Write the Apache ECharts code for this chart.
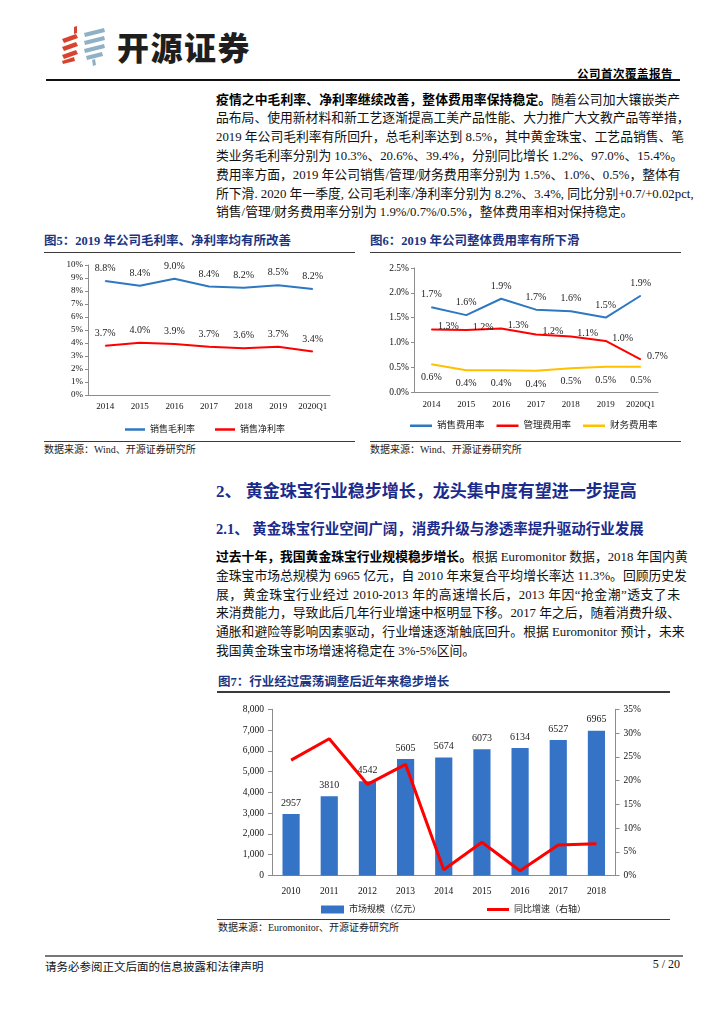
<!DOCTYPE html>
<html>
<head>
<meta charset="utf-8">
<script src="https://cdn.jsdelivr.net/npm/echarts/dist/echarts.min.js"></script>
<style>
  html, body { margin:0; padding:0; background:#fff; }
  body { width:724px; height:1024px; position:relative; overflow:hidden;
         font-family:"Liberation Serif","Noto Sans CJK SC",serif; color:#111; }
  .abs { position:absolute; }
  .para { position:absolute; left:216px; width:464px; font-size:12.8px; line-height:18.8px; color:#111; }
  .para div { white-space:nowrap; text-align:justify; text-align-last:justify; height:18.8px; }
  .para div.last { text-align-last:left; }
  .para b { font-weight:bold; color:#000; }
  .figt { position:absolute; font-size:12.5px; font-weight:bold; color:#1c3582; line-height:16px; white-space:nowrap; }
  .rule { position:absolute; height:1.5px; background:#3a3a3a; }
  .src { position:absolute; font-size:10px; line-height:12px; color:#222; white-space:nowrap; }
  .chart { position:absolute; }
</style>
</head>
<body>
<script>
// ---------------- DATA ----------------
const years5 = ['2014', '2015', '2016', '2017', '2018', '2019', '2020Q1'];
const grossMargin = [8.77, 8.40, 8.95, 8.35, 8.25, 8.45, 8.15];
const grossMarginLabels = ['8.8%', '8.4%', '9.0%', '8.4%', '8.2%', '8.5%', '8.2%'];
const netMargin = [3.78, 4.02, 3.92, 3.72, 3.60, 3.72, 3.35];
const netMarginLabels = ['3.7%', '4.0%', '3.9%', '3.7%', '3.6%', '3.7%', '3.4%'];
const fig5Ticks = [0, 10, 1];

const salesExp = [1.71, 1.55, 1.88, 1.66, 1.63, 1.50, 1.94];
const salesExpLabels = ['1.7%', '1.6%', '1.9%', '1.7%', '1.6%', '1.5%', '1.9%'];
const mgmtExp = [1.26, 1.25, 1.28, 1.16, 1.12, 1.03, 0.66];
const mgmtExpLabels = ['1.3%', '1.2%', '1.3%', '1.2%', '1.1%', '1.0%', '0.7%'];
const finExp = [0.56, 0.44, 0.44, 0.43, 0.48, 0.51, 0.51];
const finExpLabels = ['0.6%', '0.4%', '0.4%', '0.4%', '0.5%', '0.5%', '0.5%'];
const fig6Ticks = [0, 2.5, 0.5];

const years7 = ['2010', '2011', '2012', '2013', '2014', '2015', '2016', '2017', '2018'];
const marketSize = [2957, 3810, 4542, 5605, 5674, 6073, 6134, 6527, 6965];
const growthRate = [24.3, 28.8, 19.2, 23.4, 1.2, 7.0, 1.0, 6.4, 6.7];
const fig7LeftTicks = [0, 8000, 1000];
const fig7RightTicks = [0, 35, 5];
</script>

<!-- Header -->
<svg class="abs" style="left:58px;top:25px" width="52" height="42" viewBox="0 0 52 42">
  <g fill="#d8432f">
    <path d="M16 2 L19 1 L19 8 L16 9 Z"/>
    <path d="M4 14 L18 9 L20 13 L6 18 Z"/>
    <path d="M4 22 L18 17 L20 21 L6 26 Z"/>
    <path d="M4 30 L18 25 L20 29 L6 34 Z"/>
    <path d="M4 36 L16 32 L17 36 L5 39 Z"/>
  </g>
  <g fill="#8fb1c6">
    <path d="M26 8 L46 3 L47 7 L27 12 Z"/>
    <path d="M26 16 L46 11 L47 15 L27 20 Z"/>
    <path d="M26 24 L46 19 L47 23 L27 28 Z"/>
    <path d="M28 31 L44 27 L45 31 L29 35 Z"/>
    <path d="M34 35 L37 34 L38 40 L35 41 Z"/>
  </g>
</svg>
<div class="abs" style="left:117px;top:29px;font-family:'Noto Sans CJK SC';font-weight:900;font-size:32px;line-height:34px;letter-spacing:1.5px;color:#1e1e1e;">开源证券</div>
<div class="abs" style="left:577px;top:66px;font-family:'Noto Sans CJK SC';font-weight:bold;font-size:11.5px;line-height:14px;color:#000;letter-spacing:0.5px;">公司首次覆盖报告</div>
<div class="abs" style="left:46px;top:79px;width:634px;height:1.5px;background:#111;"></div>

<!-- Paragraph 1 -->
<div class="para" style="top:90.6px;">
  <div><b>疫情之中毛利率、净利率继续改善，整体费用率保持稳定。</b>随着公司加大镶嵌类产</div>
  <div>品布局、使用新材料和新工艺逐渐提高工美产品性能、大力推广大文教产品等举措，</div>
  <div>2019 年公司毛利率有所回升，总毛利率达到 8.5%，其中黄金珠宝、工艺品销售、笔</div>
  <div>类业务毛利率分别为 10.3%、20.6%、39.4%，分别同比增长 1.2%、97.0%、15.4%。</div>
  <div>费用率方面，2019 年公司销售/管理/财务费用率分别为 1.5%、1.0%、0.5%，整体有</div>
  <div>所下滑. 2020 年一季度, 公司毛利率/净利率分别为 8.2%、3.4%, 同比分别+0.7/+0.02pct,</div>
  <div class="last">销售/管理/财务费用率分别为 1.9%/0.7%/0.5%，整体费用率相对保持稳定。</div>
</div>

<!-- Figure 5 & 6 titles -->
<div class="figt" style="left:44px;top:232.5px;">图5：2019 年公司毛利率、净利率均有所改善</div>
<div class="rule" style="left:44px;top:251.5px;width:311px;"></div>
<div class="figt" style="left:370px;top:232.5px;">图6：2019 年公司整体费用率有所下滑</div>
<div class="rule" style="left:370px;top:251.5px;width:311px;"></div>

<div id="c5" class="chart" style="left:40px;top:255px;width:320px;height:185px;"></div>
<div id="c6" class="chart" style="left:365px;top:255px;width:320px;height:185px;"></div>

<div class="rule" style="left:44px;top:440.5px;width:311px;"></div>
<div class="rule" style="left:370px;top:440.5px;width:311px;"></div>
<div class="src" style="left:44px;top:444px;">数据来源：Wind、开源证券研究所</div>
<div class="src" style="left:370px;top:444px;">数据来源：Wind、开源证券研究所</div>

<!-- Section headings -->
<div class="abs" style="left:216px;top:481px;font-size:17px;line-height:21px;font-weight:bold;color:#1b2b8c;white-space:nowrap;">2、 黄金珠宝行业稳步增长，龙头集中度有望进一步提高</div>
<div class="abs" style="left:216px;top:520px;font-size:14.5px;line-height:18px;font-weight:bold;color:#1b2b8c;white-space:nowrap;">2.1、 黄金珠宝行业空间广阔，消费升级与渗透率提升驱动行业发展</div>

<!-- Paragraph 2 -->
<div class="para" style="top:548px;">
  <div><b>过去十年，我国黄金珠宝行业规模稳步增长。</b>根据 Euromonitor 数据，2018 年国内黄</div>
  <div>金珠宝市场总规模为 6965 亿元，自 2010 年来复合平均增长率达 11.3%。回顾历史发</div>
  <div>展，黄金珠宝行业经过 2010-2013 年的高速增长后，2013 年因“抢金潮”透支了未</div>
  <div>来消费能力，导致此后几年行业增速中枢明显下移。2017 年之后，随着消费升级、</div>
  <div>通胀和避险等影响因素驱动，行业增速逐渐触底回升。根据 Euromonitor 预计，未来</div>
  <div class="last">我国黄金珠宝市场增速将稳定在 3%-5%区间。</div>
</div>

<!-- Figure 7 -->
<div class="figt" style="left:218px;top:673.5px;">图7：行业经过震荡调整后近年来稳步增长</div>
<div class="rule" style="left:217px;top:691px;width:453px;"></div>
<div id="c7" class="chart" style="left:215px;top:695px;width:460px;height:222px;"></div>
<div class="rule" style="left:217px;top:918.5px;width:453px;"></div>
<div class="src" style="left:218px;top:922px;">数据来源：Euromonitor、开源证券研究所</div>

<!-- Footer -->
<div class="abs" style="left:45px;top:954.5px;width:638px;height:2px;background:#777;"></div>
<div class="abs" style="left:45px;top:960px;font-size:11.5px;line-height:14px;color:#111;">请务必参阅正文后面的信息披露和法律声明</div>
<div class="abs" style="left:640px;top:957px;width:40px;text-align:right;font-size:12px;line-height:14px;color:#111;">5 / 20</div>

<script>
const FONT = '"Liberation Serif","Noto Sans CJK SC",serif';
const axisLineStyle = { color: '#8c8c8c', width: 1 };

function lineSeries(name, data, labels, color, labelOpt) {
  return {
    name: name,
    type: 'line',
    data: data,
    symbol: 'circle',
    symbolSize: 1,
    showSymbol: true,
    smooth: false,
    lineStyle: { color: color, width: 2 },
    itemStyle: { color: color },
    label: Object.assign({
      show: true,
      position: 'top',
      distance: 6,
      fontFamily: FONT,
      fontSize: 10,
      color: '#222',
      formatter: p => labels[p.dataIndex]
    }, labelOpt || {})
  };
}

// Figure 5
const c5 = echarts.init(document.getElementById('c5'), null, { renderer: 'canvas' });
c5.setOption({
  animation: false,
  grid: { left: 48, right: 30, top: 10, bottom: 45, containLabel: false },
  xAxis: {
    type: 'category', data: years5, boundaryGap: true,
    axisLine: { lineStyle: axisLineStyle }, axisTick: { show: false },
    axisLabel: { fontFamily: FONT, fontSize: 9, color: '#111', margin: 7, interval: 0 }
  },
  yAxis: {
    type: 'value', min: fig5Ticks[0], max: fig5Ticks[1], interval: fig5Ticks[2],
    axisLine: { show: true, lineStyle: axisLineStyle },
    axisTick: { show: true, length: 3, lineStyle: axisLineStyle },
    splitLine: { show: false },
    axisLabel: { fontFamily: FONT, fontSize: 9, color: '#111', margin: 5, formatter: '{value}%' }
  },
  legend: {
    left: 80, top: 165, itemWidth: 20, itemHeight: 2.5, itemGap: 20, icon: 'rect',
    textStyle: { fontFamily: FONT, fontSize: 9, color: '#222' },
    data: ['销售毛利率', '销售净利率']
  },
  series: [
    lineSeries('销售毛利率', grossMargin, grossMarginLabels, '#2e78c2', { distance: 7 }),
    lineSeries('销售净利率', netMargin, netMarginLabels, '#ff0000', { distance: 7 })
  ]
});

// Figure 6
const c6 = echarts.init(document.getElementById('c6'), null, { renderer: 'canvas' });
c6.setOption({
  animation: false,
  grid: { left: 49, right: 27, top: 13, bottom: 48, containLabel: false },
  xAxis: {
    type: 'category', data: years5, boundaryGap: true,
    axisLine: { lineStyle: axisLineStyle }, axisTick: { show: false },
    axisLabel: { fontFamily: FONT, fontSize: 9, color: '#111', margin: 8, interval: 0 }
  },
  yAxis: {
    type: 'value', min: fig6Ticks[0], max: fig6Ticks[1], interval: fig6Ticks[2],
    axisLine: { show: true, lineStyle: axisLineStyle },
    axisTick: { show: true, length: 3, lineStyle: axisLineStyle },
    splitLine: { show: false },
    axisLabel: { fontFamily: FONT, fontSize: 9.5, color: '#111', margin: 5,
                 formatter: v => v.toFixed(1) + '%' }
  },
  legend: {
    left: 40, top: 161, itemWidth: 22, itemHeight: 2.5, itemGap: 12, icon: 'rect',
    textStyle: { fontFamily: FONT, fontSize: 9.5, color: '#222' },
    data: ['销售费用率', '管理费用率', '财务费用率']
  },
  series: [
    lineSeries('销售费用率', salesExp, salesExpLabels, '#2e78c2', { distance: 7 }),
    lineSeries('管理费用率', mgmtExp, mgmtExpLabels, '#ff0000', { position: 'right', distance: 6, offset: [0, -3] }),
    lineSeries('财务费用率', finExp, finExpLabels, '#ffc000', { position: 'bottom', distance: 8 })
  ]
});

// Figure 7
const c7 = echarts.init(document.getElementById('c7'), null, { renderer: 'canvas' });
c7.setOption({
  animation: false,
  grid: { left: 57, right: 59.5, top: 14.3, bottom: 41.5, containLabel: false },
  xAxis: {
    type: 'category', data: years7, boundaryGap: true,
    axisLine: { lineStyle: axisLineStyle }, axisTick: { show: false },
    axisLabel: { fontFamily: FONT, fontSize: 9.5, color: '#111', margin: 11, interval: 0 }
  },
  yAxis: [
    {
      type: 'value', min: fig7LeftTicks[0], max: fig7LeftTicks[1], interval: fig7LeftTicks[2],
      axisLine: { show: true, lineStyle: axisLineStyle },
      axisTick: { show: true, length: 4, lineStyle: axisLineStyle },
      splitLine: { show: false },
      axisLabel: { fontFamily: FONT, fontSize: 9.5, color: '#111', margin: 8,
                   formatter: v => v.toLocaleString('en-US') }
    },
    {
      type: 'value', min: fig7RightTicks[0], max: fig7RightTicks[1], interval: fig7RightTicks[2],
      position: 'right',
      axisLine: { show: true, lineStyle: axisLineStyle },
      axisTick: { show: true, length: 4, lineStyle: axisLineStyle },
      splitLine: { show: false },
      axisLabel: { fontFamily: FONT, fontSize: 9.5, color: '#111', margin: 8, formatter: '{value}%' }
    }
  ],
  legend: [
    {
      left: 101, top: 205, itemWidth: 23, itemHeight: 8, icon: 'rect',
      textStyle: { fontFamily: FONT, fontSize: 9, color: '#222' },
      data: ['市场规模（亿元）']
    },
    {
      left: 267, top: 205, itemWidth: 22, itemHeight: 3, icon: 'rect',
      textStyle: { fontFamily: FONT, fontSize: 9, color: '#222' },
      data: ['同比增速（右轴）']
    }
  ],
  series: [
    {
      name: '市场规模（亿元）', type: 'bar', data: marketSize, yAxisIndex: 0,
      barWidth: '45%',
      itemStyle: { color: '#3473c5' },
      label: { show: true, position: 'top', distance: 6, fontFamily: FONT, fontSize: 10, color: '#222' }
    },
    {
      name: '同比增速（右轴）', type: 'line', data: growthRate, yAxisIndex: 1,
      symbol: 'none', lineStyle: { color: '#ff0000', width: 3 }, itemStyle: { color: '#ff0000' }
    }
  ]
});
</script>
</body>
</html>
